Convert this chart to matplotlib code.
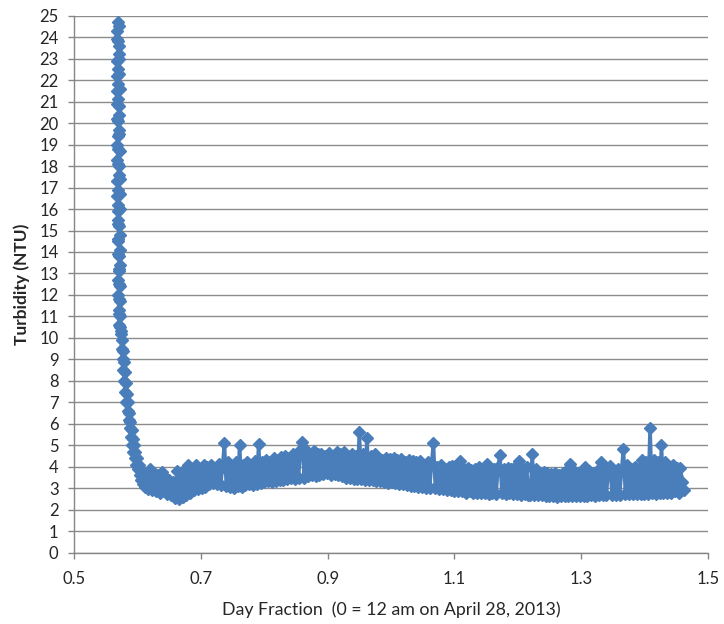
import numpy as np
import matplotlib
matplotlib.use("Agg")
import matplotlib.pyplot as plt

# ---- data ----
# initial steep descent (explicit day-fraction / turbidity pairs)
descent_day = [0.5695, 0.5680, 0.5705, 0.5675, 0.5710, 0.5685, 0.5700, 0.5672, 0.5712, 0.5688,
               0.5676, 0.5708, 0.5690, 0.5674, 0.5714, 0.5684, 0.5702, 0.5678, 0.5712, 0.5690,
               0.5676, 0.5710, 0.5686, 0.5706, 0.5678, 0.5716, 0.5692, 0.5680, 0.5712, 0.5688,
               0.5704, 0.5680, 0.5716, 0.5692, 0.5682, 0.5714, 0.5696, 0.5684, 0.5718, 0.5694,
               0.5708, 0.5686, 0.5720, 0.5696, 0.5688, 0.5718, 0.5700, 0.5690, 0.5722, 0.5700,
               0.5712, 0.5692, 0.5724, 0.5704, 0.5694, 0.5726, 0.5708, 0.5698, 0.5728, 0.5710,
               0.5700, 0.5730, 0.5716,
               0.5735, 0.5748, 0.5752, 0.5762, 0.5766, 0.5775, 0.5782, 0.5790, 0.5796, 0.5805,
               0.5812, 0.5822, 0.5830, 0.5840, 0.5848, 0.5858, 0.5866, 0.5876, 0.5885, 0.5895,
               0.5904, 0.5914, 0.5924, 0.5934, 0.5944, 0.5955, 0.5966, 0.5978, 0.5990, 0.6003,
               0.6016, 0.6030, 0.6045, 0.6060, 0.6075, 0.6090, 0.6105, 0.6120, 0.6140, 0.6160,
               0.6180]
descent_ntu = [24.7, 24.3, 24.5, 23.9, 23.6, 23.8, 23.2, 22.9, 23.0, 22.5,
               22.2, 22.3, 21.8, 21.5, 21.6, 21.1, 20.8, 20.9, 20.4, 20.1,
               20.2, 19.7, 19.4, 19.5, 19.0, 18.7, 18.8, 18.3, 18.0, 18.1,
               17.6, 17.3, 17.4, 16.9, 16.6, 16.7, 16.2, 15.9, 16.0, 15.5,
               15.2, 15.3, 14.8, 14.5, 14.6, 14.1, 13.8, 13.9, 13.4, 13.1,
               13.2, 12.7, 12.4, 12.5, 12.0, 11.7, 11.8, 11.3, 11.0, 11.1,
               10.6, 10.3, 10.5,
               10.2, 9.5, 9.9, 9.0, 9.4, 8.5, 8.9, 8.0, 8.4, 7.5,
               7.9, 7.0, 7.4, 6.6, 7.0, 6.2, 6.5, 5.8, 6.1, 5.4,
               5.7, 5.0, 5.3, 4.7, 5.0, 4.4, 4.7, 4.1, 4.4, 3.9,
               4.1, 3.6, 3.9, 3.4, 3.7, 3.2, 3.6, 3.05, 3.5, 2.95,
               3.8]

# regularly logged readings after the descent
band_start = 0.620
band_step = 0.003
band_ntu = [
    3.9, 2.9, 3.7, 2.85, 3.6, 2.8, 3.75, 2.85, 3.5, 2.75,
    3.4, 2.7, 3.3, 2.55, 3.8, 2.5, 3.6, 2.6, 3.9, 2.7,
    4.1, 2.8, 3.9, 2.9, 4.1, 2.95, 3.8, 3.0, 4.1, 3.05,
    4.0, 3.2, 4.1, 3.25, 3.9, 3.2, 4.15, 3.15, 4.0, 5.1,
    3.1, 4.2, 3.05, 4.0, 3.0, 4.2, 3.1, 5.0, 3.05, 4.1,
    3.15, 4.2, 3.2, 4.0, 3.15, 4.25, 3.2, 5.05, 3.25, 4.2,
    3.3, 4.3, 3.35, 4.2, 3.3, 4.4, 3.35, 4.3, 3.4, 4.45,
    3.4, 4.5, 3.45, 4.4, 3.5, 4.6, 3.45, 4.5, 3.5, 4.8,
    5.15, 3.5, 4.8, 3.55, 4.6, 3.6, 4.75, 3.55, 4.6, 3.6,
    4.6, 3.65, 4.5, 3.7, 4.65, 3.6, 4.5, 3.65, 4.7, 3.6,
    4.6, 3.55, 4.7, 3.5, 4.5, 3.5, 4.6, 3.45, 4.5, 3.45,
    5.6, 3.45, 4.6, 3.4, 5.35, 3.4, 4.5, 3.4, 4.6, 3.35,
    4.4, 3.35, 4.3, 3.3, 4.4, 3.25, 4.35, 3.3, 4.4, 3.25,
    4.3, 3.2, 4.35, 3.2, 4.2, 3.15, 4.3, 3.1, 4.25, 3.1,
    4.2, 3.05, 4.25, 3.05, 4.1, 3.0, 4.2, 3.0, 4.15, 5.1,
    3.0, 4.0, 2.95, 4.1, 2.95, 3.9, 2.9, 4.0, 2.9, 4.05,
    2.85, 3.95, 2.85, 4.25, 2.85, 3.9, 2.8, 3.95, 2.85, 3.85,
    2.8, 3.9, 2.8, 4.0, 2.8, 3.85, 2.8, 4.15, 2.75, 3.9,
    2.8, 3.9, 2.75, 4.0, 4.55, 2.8, 3.9, 2.75, 3.95, 2.8,
    3.9, 2.75, 4.0, 2.75, 4.25, 2.7, 3.9, 2.75, 4.0, 2.7,
    2.7, 4.6, 2.7, 3.9, 2.7, 3.7, 2.7, 3.75, 2.65, 3.7,
    2.65, 3.65, 2.65, 3.7, 2.6, 3.6, 2.65, 3.7, 2.65, 3.8,
    2.65, 4.15, 2.65, 3.8, 2.65, 3.7, 2.65, 3.75, 2.65, 4.0,
    2.65, 3.8, 2.7, 3.7, 2.65, 3.8, 2.7, 4.2, 2.7, 3.9,
    2.7, 3.8, 4.05, 2.7, 3.8, 2.7, 3.9, 2.7, 3.85, 4.85,
    2.75, 4.1, 2.75, 3.9, 2.75, 4.0, 2.75, 3.9, 2.75, 4.3,
    2.75, 4.2, 2.75, 5.8, 2.8, 4.3, 2.75, 4.2, 2.8, 5.0,
    2.8, 4.2, 2.8, 4.0, 2.8, 4.1, 2.85, 3.95, 2.8, 3.95,
    3.3, 2.9,
]

x_ticks = [0.5, 0.7, 0.9, 1.1, 1.3, 1.5]
y_ticks = list(range(0, 26))
x_label = "Day Fraction  (0 = 12 am on April 28, 2013)"
y_label = "Turbidity (NTU)"

# ---- assemble series ----
band_day = band_start + band_step * np.arange(len(band_ntu))
day = np.concatenate([descent_day, band_day])
ntu = np.concatenate([descent_ntu, band_ntu])

# ---- plot ----
plt.rcParams['font.family'] = ['Lato', 'DejaVu Sans']
fig = plt.figure(figsize=(7.24, 6.24), dpi=100)
ax = fig.add_axes([74.3 / 724, 1 - 552.7 / 624, (707.7 - 74.3) / 724, (552.7 - 15.7) / 624])

color = '#4A7EBB'
ax.plot(day, ntu, color=color, lw=2.6, marker='D', ms=6.2, mec=color, mfc=color,
        mew=1.0, zorder=3, solid_joinstyle='round')

ax.set_xlim(0.5, 1.5)
ax.set_ylim(0, 25)
ax.set_xticks(x_ticks)
ax.set_xticklabels([f"{v:.1f}" for v in x_ticks])
ax.set_yticks(y_ticks)
ax.yaxis.grid(True, color='#8c8c8c', lw=1.0, zorder=0)
ax.xaxis.grid(False)
ax.set_axisbelow(True)

grey = '#868686'
for s in ['top', 'right']:
    ax.spines[s].set_visible(False)
for s in ['left', 'bottom']:
    ax.spines[s].set_color(grey)
    ax.spines[s].set_linewidth(1.0)
ax.tick_params(axis='both', direction='out', length=4.3, width=1.0, color=grey,
               labelsize=12, labelcolor='#262626')
ax.tick_params(axis='x', pad=9)
ax.tick_params(axis='y', pad=7)

ax.set_xlabel(x_label, fontsize=12.8, color='#262626', labelpad=10)
ax.set_ylabel(y_label, fontsize=12.5, fontweight='bold', color='#262626', labelpad=7)

fig.savefig('out.png', dpi=100)
